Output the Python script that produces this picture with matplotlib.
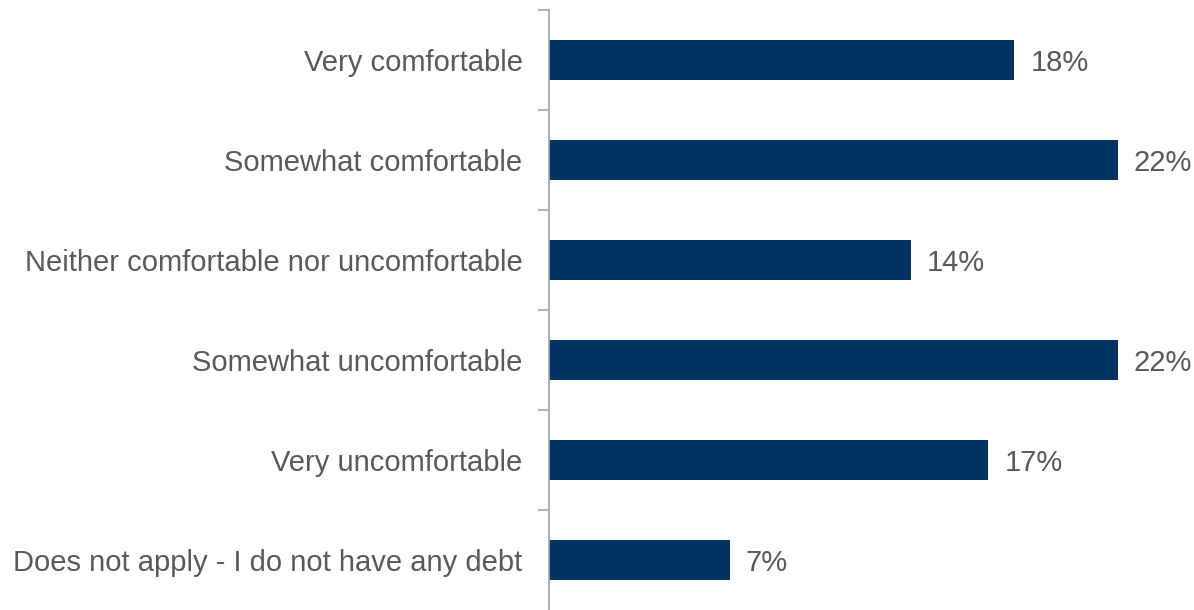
import numpy as np
import matplotlib.pyplot as plt

categories = ["Very comfortable", "Somewhat comfortable",
              "Neither comfortable nor uncomfortable", "Somewhat uncomfortable",
              "Very uncomfortable", "Does not apply - I do not have any debt"]
values = [18, 22, 14, 22, 17, 7]
value_labels = ["18%", "22%", "14%", "22%", "17%", "7%"]

plt.rcParams['font.family'] = ['Liberation Sans', 'DejaVu Sans']

fig = plt.figure(figsize=(11.94, 6.1), dpi=100)
ax = fig.add_axes([549 / 1194, 0.0, 1 - 549 / 1194, 1 - 10 / 610])

n = len(categories)
pos = np.arange(n)
ax.barh(pos, values, height=0.4, color='#003262')
ax.set_ylim(n - 0.5, -0.5)
ax.set_xlim(0, 24.95)

for p, v, lab in zip(pos, values, value_labels):
    ax.annotate(lab, (v, p), xytext=(11.5, 0), textcoords='offset points',
                va='center_baseline', ha='left', fontsize=21, color='#595959')

# boundaries get the tick marks, centres get the labels
ax.set_yticks(np.arange(n) - 0.5)
ax.set_yticklabels([])
ax.set_yticks(pos, minor=True)
ax.set_yticklabels(categories, minor=True, fontsize=21, color='#595959',
                   va='center_baseline')
ax.tick_params(axis='y', which='major', length=8, width=1.2, color='#a6a6a6', direction='out')
ax.tick_params(axis='y', which='minor', length=0, pad=19)

ax.set_xticks([])
for s in ['top', 'right', 'bottom']:
    ax.spines[s].set_visible(False)
ax.spines['left'].set_color('#a6a6a6')
ax.spines['left'].set_linewidth(1.2)

fig.savefig('out.png', dpi=100)
